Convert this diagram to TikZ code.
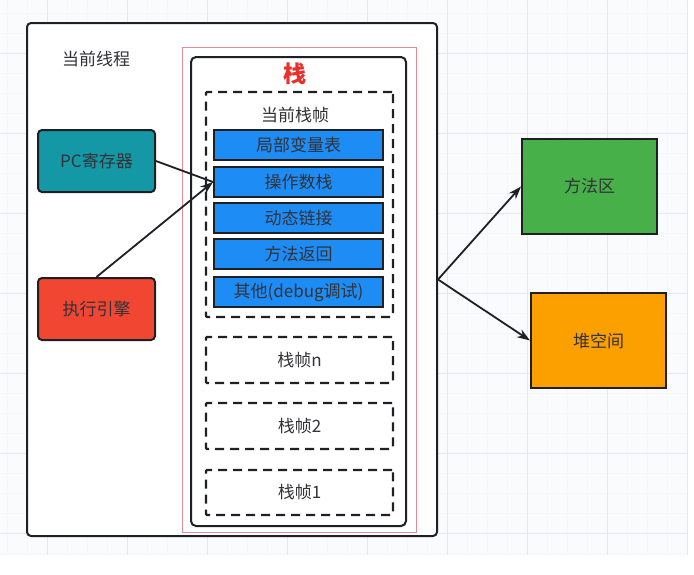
\documentclass[tikz,border=0pt]{standalone}
\usepackage{fontspec}
\setmainfont{Noto Sans CJK SC}
\usepackage{tikz}
\usetikzlibrary{arrows.meta}

\definecolor{boxline}{RGB}{30,32,38}
\definecolor{txt}{RGB}{50,50,55}
\definecolor{pcteal}{RGB}{21,152,166}
\definecolor{execred}{RGB}{240,70,50}
\definecolor{slotblue}{RGB}{30,140,245}
\definecolor{methgreen}{RGB}{72,176,72}
\definecolor{heaporange}{RGB}{252,160,0}
\definecolor{stackred}{RGB}{232,48,42}
\definecolor{frameline}{RGB}{228,140,150}
\definecolor{cardbg}{RGB}{250,251,252}
\definecolor{gridmajor}{RGB}{230,232,236}
\definecolor{gridminor}{RGB}{245,246,248}

\begin{document}
\begin{tikzpicture}[x=1pt, y=-1pt,
		box/.style={draw=boxline, line width=2pt, inner sep=0pt, text=txt,
			font=\fontsize{17}{20}\selectfont},
		slot/.style={box, fill=slotblue, minimum width=169pt, minimum height=30pt},
		framebox/.style={box, dashed, dash pattern=on 9pt off 6pt, line width=2.2pt,
			minimum width=187pt, rounded corners=1pt},
		link/.style={draw=boxline, line width=1.8pt},
		arr/.style={link, -{Stealth[length=13pt, width=9pt]}}]
	\useasboundingbox (0,0) rectangle (694,574);
	% background grid
	\fill[white] (0,0) rectangle (694,574);
	\fill[cardbg, rounded corners=6pt] (-10,-10) rectangle (688,556);
	\foreach \i in {7,27,...,687} {
		\draw[gridminor, line width=.6pt] (\i,0) -- (\i,555);
	}
	\foreach \i in {13,33,...,553} {
		\draw[gridminor, line width=.6pt] (0,\i) -- (687,\i);
	}
	\foreach \i in {47,127,...,687} {
		\draw[gridmajor, line width=.8pt] (\i,0) -- (\i,555);
	}
	\foreach \i in {53,133,...,533} {
		\draw[gridmajor, line width=.8pt] (0,\i) -- (687,\i);
	}

	% thread and stack
	\node[box, fill=white, rounded corners=4pt, minimum width=410pt, minimum height=513pt]
		(thread) at (232,279.5) {};
	\node[text=txt, font=\fontsize{17}{20}\selectfont] (threadlbl) at (96,59) {当前线程};
	\node[draw=frameline, line width=.8pt, inner sep=0pt, minimum width=234pt,
		minimum height=485pt] (redframe) at (299,289.5) {};
	\node[box, fill=white, rounded corners=5pt, minimum width=215pt, minimum height=469pt]
		(stack) at (298.5,291.5) {};
	\node[text=stackred, font=\fontsize{23}{26}\selectfont\bfseries] (stacklbl) at (295,74) {栈};

	% current frame
	\node[framebox, minimum height=225pt] (curframe) at (299.5,204.5) {};
	\node[text=txt, font=\fontsize{17}{20}\selectfont] (curlbl) at (295,115) {当前栈帧};
	\node[slot] (locals) at (298.5,145) {局部变量表};
	\node[slot] (opstack) at (298.5,182) {操作数栈};
	\node[slot] (dynlink) at (298.5,218) {动态链接};
	\node[slot] (retaddr) at (298.5,254) {方法返回};
	\node[slot] (others) at (298.5,292) {其他(debug调试)};

	% older frames
	\node[framebox, minimum height=46pt] (framen) at (299.5,360) {栈帧n};
	\node[framebox, minimum height=46pt] (frametwo) at (299.5,426) {栈帧2};
	\node[framebox, minimum height=45pt] (frameone) at (299.5,492.5) {栈帧1};

	% pc and engine
	\node[box, fill=pcteal, rounded corners=4pt, minimum width=117pt, minimum height=62pt]
		(pc) at (96.5,161) {PC寄存器};
	\node[box, fill=execred, rounded corners=4pt, minimum width=117pt, minimum height=62pt]
		(exec) at (96.5,309) {执行引擎};

	% shared areas
	\node[box, fill=methgreen, minimum width=135pt, minimum height=95pt]
		(method) at (589.5,186.5) {方法区};
	\node[box, fill=heaporange, minimum width=135pt, minimum height=95pt]
		(heap) at (598.5,340.5) {堆空间};

	\draw[link] (pc.east) -- (opstack.west);
	\draw[arr] (exec.north) -- (opstack.west);
	\draw[arr] (thread.east) -- (method.west);
	\draw[arr] (thread.east) -- (heap.west);
\end{tikzpicture}
\end{document}
